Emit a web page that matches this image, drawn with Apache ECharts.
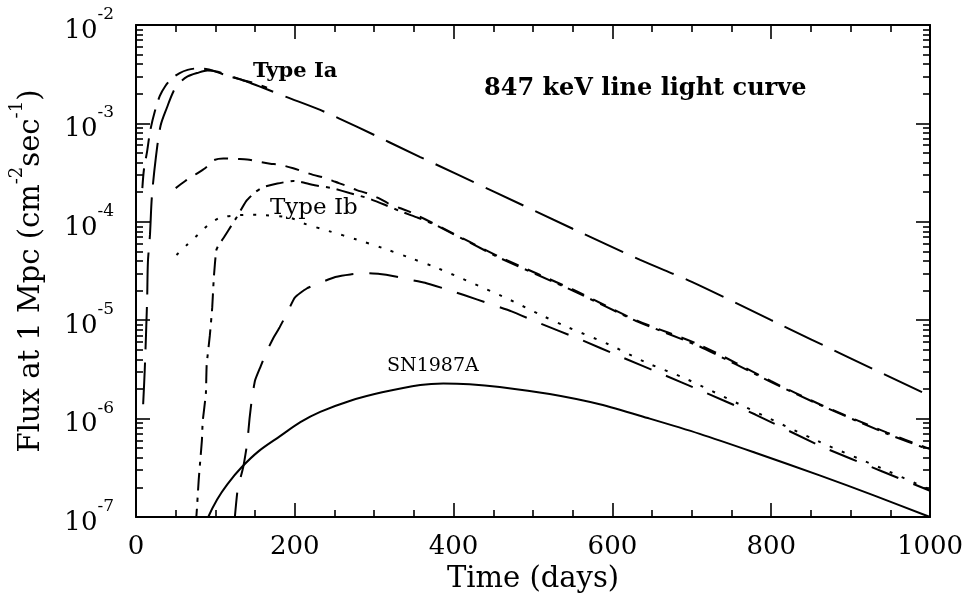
<!DOCTYPE html>
<html>
<head>
<meta charset="utf-8">
<script src="https://cdn.jsdelivr.net/npm/echarts@6/dist/echarts.min.js"></script>
<style>html,body{margin:0;padding:0;background:#fff}#chart{width:969px;height:597px}</style>
</head>
<body>
<div id="chart"></div>
<script>
// ---- data (days, flux at 1 Mpc in cm^-2 s^-1) ----
const iaA_days = [8, 10, 14, 18, 24, 30, 37, 45, 55, 65, 77, 90, 103, 118, 135, 150, 165];
const iaA_flux = [2.2e-4, 3.4e-4, 5.2e-4, 8.5e-4, 1.35e-3, 1.9e-3, 2.4e-3, 2.85e-3, 3.25e-3, 3.5e-3, 3.62e-3, 3.55e-3, 3.3e-3, 3.0e-3, 2.75e-3, 2.55e-3, 2.3e-3];

const iaB_days = [9, 11, 14, 15, 17.6, 20, 25, 31, 39, 47, 55, 65, 77, 90, 103, 120, 140, 160, 190, 232, 280, 358, 450, 550, 635, 700, 800, 900, 1000];
const iaB_flux = [1.4e-6, 3.1e-6, 1.6e-5, 3.9e-5, 7.4e-5, 1.8e-4, 4.5e-4, 9.5e-4, 1.45e-3, 2.1e-3, 2.6e-3, 3.0e-3, 3.25e-3, 3.45e-3, 3.35e-3, 3.0e-3, 2.65e-3, 2.3e-3, 1.85e-3, 1.37e-3, 9.1e-4, 4.55e-4, 2.04e-4, 8.5e-5, 4.1e-5, 2.45e-5, 1.0e-5, 4.1e-6, 1.7e-6];

const med_days = [50, 62, 74, 87, 97, 110, 127, 140, 156, 169, 181, 198, 210, 223, 238, 251, 263, 278, 291, 305, 317, 332, 345, 383, 458, 550, 630, 710, 800, 861, 946, 1000];
const med_flux = [2.2e-4, 2.6e-4, 3.0e-4, 3.5e-4, 4.2e-4, 4.4e-4, 4.35e-4, 4.3e-4, 4.05e-4, 3.9e-4, 3.8e-4, 3.5e-4, 3.25e-4, 3.0e-4, 2.8e-4, 2.55e-4, 2.35e-4, 2.1e-4, 1.95e-4, 1.75e-4, 1.55e-4, 1.38e-4, 1.26e-4, 8.9e-5, 4.4e-5, 2.05e-5, 1.0e-5, 5.6e-6, 2.4e-6, 1.4e-6, 7.2e-7, 4.9e-7];

const dd_days = [74, 76, 79, 81, 83, 84, 88, 89, 93, 96, 98, 101, 104, 110, 116, 127, 139, 150, 160, 178, 198, 207, 225, 247, 270, 292, 314, 335, 355, 377, 458, 550, 630, 710, 800, 861, 946, 1000];
const dd_flux = [8e-8, 1.0e-7, 2.4e-7, 3.8e-7, 6e-7, 9.3e-7, 1.8e-6, 3.5e-6, 7e-6, 1.35e-5, 2.7e-5, 5.1e-5, 5.8e-5, 6.8e-5, 8.1e-5, 1.12e-4, 1.63e-4, 2.0e-4, 2.25e-4, 2.45e-4, 2.6e-4, 2.55e-4, 2.35e-4, 2.2e-4, 1.95e-4, 1.74e-4, 1.48e-4, 1.26e-4, 1.1e-4, 9.3e-5, 4.3e-5, 2.0e-5, 9.8e-6, 5.4e-6, 2.35e-6, 1.38e-6, 7.0e-7, 4.8e-7];

const ib_days = [51, 64, 78, 91, 106, 125, 145, 160, 194, 210, 244, 278, 311, 345, 379, 462, 511, 545, 595, 643, 692, 760, 861, 940, 1000];
const ib_flux = [4.6e-5, 5.8e-5, 7.4e-5, 9.3e-5, 1.1e-4, 1.16e-4, 1.18e-4, 1.17e-4, 1.1e-4, 9.7e-5, 8.0e-5, 6.6e-5, 5.4e-5, 4.3e-5, 3.4e-5, 1.74e-5, 1.12e-5, 8.4e-6, 5.7e-6, 3.7e-6, 2.55e-6, 1.4e-6, 5.8e-7, 3.1e-7, 1.9e-7];

const low_days = [124, 128, 135, 140, 143, 146, 150, 157, 164, 173, 181, 190, 200, 215, 232, 251, 270, 290, 307, 325, 343, 364, 396, 430, 473, 506, 559, 612, 664, 710, 780, 861, 940, 1000];
const low_flux = [9e-8, 1.9e-7, 3.2e-7, 5.6e-7, 1.0e-6, 1.6e-6, 2.45e-6, 3.4e-6, 4.7e-6, 6.6e-6, 8.5e-6, 1.17e-5, 1.7e-5, 2.1e-5, 2.4e-5, 2.75e-5, 2.92e-5, 3.0e-5, 2.95e-5, 2.8e-5, 2.6e-5, 2.4e-5, 2.0e-5, 1.62e-5, 1.23e-5, 9.5e-6, 6.4e-6, 4.2e-6, 2.8e-6, 1.95e-6, 1.1e-6, 5.3e-7, 2.9e-7, 1.85e-7];

const sn_days = [90, 91, 102, 115, 133, 155, 181, 207, 232, 270, 310, 358, 387, 420, 458, 521, 584, 647, 710, 780, 861, 930, 1000];
const sn_flux = [9e-8, 1.0e-7, 1.5e-7, 2.15e-7, 3.2e-7, 4.7e-7, 6.6e-7, 9.2e-7, 1.17e-6, 1.52e-6, 1.85e-6, 2.2e-6, 2.28e-6, 2.24e-6, 2.1e-6, 1.78e-6, 1.4e-6, 1.0e-6, 7.0e-7, 4.5e-7, 2.65e-7, 1.65e-7, 1.0e-7];

const xTickLabels = [0, 200, 400, 600, 800, 1000];
const yDecades = [1e-7, 1e-6, 1e-5, 1e-4, 1e-3, 1e-2];

// ---- helpers ----
const FONT = 'DejaVu Serif';
const pairs = (xs, ys) => xs.map((x, i) => [x, ys[i]]);
const yMinor = [];
yDecades.slice(0, -1).forEach(d => { for (let k = 2; k <= 9; k++) yMinor.push(+(d * k).toPrecision(3)); });

const chart = echarts.init(document.getElementById('chart'), null, {renderer: 'canvas'});

const supRich = {
  n: {fontFamily: FONT, fontSize: 26, color: '#000', lineHeight: 38, verticalAlign: 'bottom'},
  s: {fontFamily: FONT, fontSize: 17, color: '#000', lineHeight: 17, verticalAlign: 'top'}
};

function yAxisDef(pos, major, showLabel) {
  const a = {
    type: 'log', logBase: 10, min: 1e-7, max: 1e-2, position: pos,
    axisLine: {show: major, lineStyle: {color: '#000', width: 2}},
    splitLine: {show: false},
    axisTick: {show: true, inside: true, length: major ? 14 : 7,
      lineStyle: {color: '#000', width: 1.6},
      customValues: major ? yDecades : yMinor},
    axisLabel: {show: showLabel}
  };
  if (showLabel) {
    a.axisLabel = {show: true, margin: 22, customValues: yDecades,
      formatter: v => '{n|10}{s|-' + Math.round(-Math.log10(v)) + '}', rich: supRich};
    a.name = '{t|Flux at 1 Mpc (cm}{s|-2}{t|sec}{s|-1}{t|)}';
    a.nameLocation = 'middle';
    a.nameRotate = 90;
    a.nameGap = 90;
    a.nameTextStyle = {rich: {
      t: {fontFamily: FONT, fontSize: 29, color: '#000', lineHeight: 38, verticalAlign: 'bottom'},
      s: {fontFamily: FONT, fontSize: 18, color: '#000', lineHeight: 18, verticalAlign: 'top'}
    }};
  }
  return a;
}

function xAxisDef(pos, showLabel) {
  const a = {
    type: 'value', min: 0, max: 1000, interval: 200, position: pos,
    axisLine: {show: true, onZero: false, lineStyle: {color: '#000', width: 2}},
    splitLine: {show: false},
    axisTick: {show: true, inside: true, length: 14, lineStyle: {color: '#000', width: 1.6}},
    minorTick: {show: true, splitNumber: 4, length: 7, lineStyle: {color: '#000', width: 1.6}},
    minorSplitLine: {show: false},
    axisLabel: {show: showLabel, margin: 17, fontFamily: FONT, fontSize: 26, color: '#000',
      customValues: xTickLabels, formatter: v => String(v)}
  };
  if (showLabel) {
    a.name = 'Time (days)';
    a.nameLocation = 'middle';
    a.nameGap = 44;
    a.nameTextStyle = {fontFamily: FONT, fontSize: 29, color: '#000'};
  }
  return a;
}

function line(name, xs, ys, dash, extra) {
  return Object.assign({
    name, type: 'line', xAxisIndex: 0, yAxisIndex: 0,
    data: pairs(xs, ys), showSymbol: false, symbol: 'none', smooth: 0.3,
    clip: true, silent: true, animation: false,
    lineStyle: {color: '#000', width: 2, type: dash, cap: 'butt'}
  }, extra || {});
}

const option = {
  backgroundColor: '#fff',
  animation: false,
  grid: {left: 136, right: 39, top: 25, bottom: 80, containLabel: false, outerBoundsMode: 'none'},
  xAxis: [xAxisDef('bottom', true), xAxisDef('top', false)],
  yAxis: [yAxisDef('left', true, true), yAxisDef('left', false, false),
          yAxisDef('right', true, false), yAxisDef('right', false, false)],
  series: [
    line('Type Ia (model 1)', iaA_days, iaA_flux, [20, 10]),
    line('Type Ia (model 2)', iaB_days, iaB_flux, [42, 13]),
    line('medium dash', med_days, med_flux, [14, 10]),
    line('dash-dot', dd_days, dd_flux, [18, 7, 4, 7], {smooth: 0.15}),
    line('Type Ib', ib_days, ib_flux, [3, 10]),
    line('low long dash', low_days, low_flux, [29, 16], {smooth: 0.15}),
    line('SN1987A', sn_days, sn_flux, 'solid')
  ],
  graphic: [
    {type: 'text', left: 253, top: 61, style: {text: 'Type Ia', font: 'bold 21px "DejaVu Serif"', fill: '#000'}},
    {type: 'text', left: 484, top: 77, style: {text: '847 keV line light curve', font: 'bold 24px "DejaVu Serif"', fill: '#000'}},
    {type: 'text', left: 270, top: 197, style: {text: 'Type Ib', font: '23px "DejaVu Serif"', fill: '#000'}},
    {type: 'text', left: 387, top: 357, style: {text: 'SN1987A', font: '19px "DejaVu Serif"', fill: '#000'}}
  ]
};
chart.setOption(option);
</script>
</body>
</html>
